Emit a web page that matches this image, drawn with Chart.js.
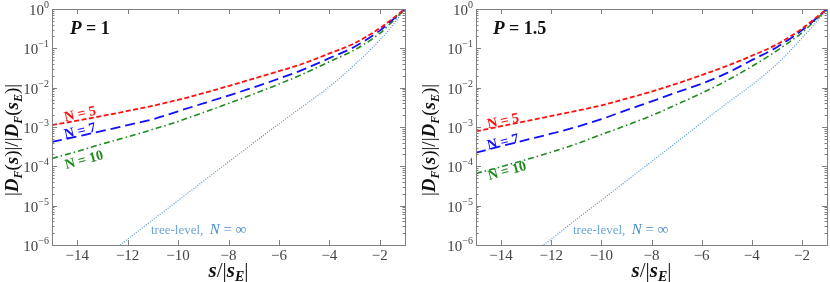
<!DOCTYPE html>
<html>
<head>
<meta charset="utf-8">
<script src="https://cdn.jsdelivr.net/npm/chart.js@4"></script>
<style>
  html, body { margin: 0; padding: 0; background: #fff; }
  #wrap { position: relative; width: 830px; height: 282px; }
  canvas { position: absolute; top: 0; }
</style>
</head>
<body>
<div id="wrap">
  <canvas id="left" width="415" height="282" style="left:0"></canvas>
  <canvas id="right" width="415" height="282" style="left:415px"></canvas>
</div>
<script>
// s/|s_E| grid used for the loop curves, and the one for the tree-level line
const sGrid = [-15, -14, -13, -12, -11, -10, -9, -8, -7, -6, -5, -4, -3, -2, -1.5, -1];
const treeGrid = [-12.3, -12, -11, -10, -9, -8, -7, -6, -5, -4, -3, -2, -1.5, -1];

// P = 1
const p1N5 = [1.12e-3, 1.45e-3, 1.91e-3, 2.57e-3, 3.47e-3, 4.90e-3, 7.24e-3, 1.10e-2, 1.70e-2, 2.63e-2, 4.17e-2, 7.41e-2, 0.135, 0.324, 0.562, 1];
const p1N7 = [4.17e-4, 5.75e-4, 7.94e-4, 1.12e-3, 1.58e-3, 2.51e-3, 3.98e-3, 6.31e-3, 1.02e-2, 1.70e-2, 2.95e-2, 5.62e-2, 0.110, 0.282, 0.525, 1];
const p1N10 = [1.58e-4, 2.40e-4, 3.72e-4, 5.62e-4, 8.71e-4, 1.38e-3, 2.34e-3, 3.98e-3, 6.92e-3, 1.23e-2, 2.29e-2, 4.57e-2, 9.12e-2, 0.240, 0.479, 1];
const p1Tree = [1.0e-6, 1.41e-6, 4.37e-6, 1.35e-5, 4.17e-5, 1.29e-4, 3.98e-4, 1.20e-3, 3.55e-3, 1.05e-2, 3.80e-2, 0.162, 0.380, 1];

// P = 1.5
const p15N5 = [7.76e-4, 1.05e-3, 1.41e-3, 1.91e-3, 2.57e-3, 3.55e-3, 5.25e-3, 7.94e-3, 1.26e-2, 2.09e-2, 3.55e-2, 6.46e-2, 0.126, 0.316, 0.562, 1];
const p15N7 = [2.24e-4, 3.24e-4, 4.68e-4, 6.76e-4, 1.0e-3, 1.58e-3, 2.69e-3, 4.47e-3, 7.59e-3, 1.26e-2, 2.34e-2, 5.01e-2, 0.107, 0.288, 0.525, 1];
const p15N10 = [6.61e-5, 9.77e-5, 1.48e-4, 2.29e-4, 3.72e-4, 6.46e-4, 1.10e-3, 1.95e-3, 3.72e-3, 7.24e-3, 1.51e-2, 3.47e-2, 8.71e-2, 0.251, 0.490, 1];
const p15Tree = [1.0e-6, 1.41e-6, 4.47e-6, 1.38e-5, 4.27e-5, 1.32e-4, 4.07e-4, 1.29e-3, 3.98e-3, 1.17e-2, 3.98e-2, 0.182, 0.407, 1];

const xTicks = [-14, -12, -10, -8, -6, -4, -2];
const yExps = [-6, -5, -4, -3, -2, -1, 0];

const SERIF = '"Liberation Serif", "DejaVu Serif", serif';
const RED = "#ff1010";
const BLUE = "#1010ff";
const GREEN = "#1f8a1f";
const TREE = "#4f95d6";

function pts(xs, ys) {
  return xs.map((x, i) => ({ x, y: ys[i] }));
}

function drawRuns(ctx, runs, x, y, align) {
  let total = 0;
  for (const r of runs) {
    ctx.font = r.f;
    r.w = ctx.measureText(r.t).width;
    total += r.w;
  }
  let cx = align === "center" ? x - total / 2 : x;
  ctx.textAlign = "left";
  ctx.textBaseline = "alphabetic";
  for (const r of runs) {
    ctx.font = r.f;
    if (r.c) ctx.fillStyle = r.c;
    ctx.fillText(r.t, cx, y + (r.dy || 0));
    cx += r.w;
  }
}

const bi = (s) => `italic bold ${s}px ${SERIF}`;
const rm = (s) => `${s}px ${SERIF}`;

function yTitleRuns() {
  return [
    { t: "|", f: rm(19) }, { t: "D", f: bi(19) }, { t: "F", f: bi(12), dy: 4 },
    { t: "(", f: rm(19) }, { t: "s", f: bi(19) }, { t: ")", f: rm(19) }, { t: "|", f: rm(19) },
    { t: "/", f: rm(19) },
    { t: "|", f: rm(19) }, { t: "D", f: bi(19) }, { t: "F", f: bi(12), dy: 4 },
    { t: "(", f: rm(19) }, { t: "s", f: bi(19) }, { t: "E", f: bi(12), dy: 4 },
    { t: ")", f: rm(19) }, { t: "|", f: rm(19) },
  ];
}

function xTitleRuns() {
  return [
    { t: "s", f: bi(21) }, { t: "/", f: rm(21) }, { t: "|", f: rm(21) },
    { t: "s", f: bi(21) }, { t: "E", f: bi(14), dy: 4 }, { t: "|", f: rm(21) },
  ];
}

const decor = {
  id: "decor",
  afterDraw(chart, args, o) {
    const ctx = chart.ctx;
    const a = chart.chartArea;
    const xs = chart.scales.x;
    const ys = chart.scales.y;
    ctx.save();

    // frame
    ctx.strokeStyle = "#808080";
    ctx.lineWidth = 1;
    ctx.strokeRect(Math.round(a.left) + 0.5, Math.round(a.top) + 0.5,
      Math.round(a.right - a.left), Math.round(a.bottom - a.top));

    // inward ticks on all four sides
    ctx.beginPath();
    for (const v of xTicks) {
      const px = Math.round(xs.getPixelForValue(v)) + 0.5;
      ctx.moveTo(px, a.bottom); ctx.lineTo(px, a.bottom - 5);
      ctx.moveTo(px, a.top); ctx.lineTo(px, a.top + 5);
    }
    for (const e of yExps) {
      const py = Math.round(ys.getPixelForValue(Math.pow(10, e))) + 0.5;
      ctx.moveTo(a.left, py); ctx.lineTo(a.left + 5, py);
      ctx.moveTo(a.right, py); ctx.lineTo(a.right - 5, py);
      if (e < 0) {
        for (let m = 2; m <= 9; m++) {
          const pm = Math.round(ys.getPixelForValue(m * Math.pow(10, e))) + 0.5;
          ctx.moveTo(a.left, pm); ctx.lineTo(a.left + 2.5, pm);
          ctx.moveTo(a.right, pm); ctx.lineTo(a.right - 2.5, pm);
        }
      }
    }
    ctx.stroke();

    // tick labels
    ctx.fillStyle = "#444";
    ctx.textAlign = "center";
    ctx.textBaseline = "alphabetic";
    ctx.font = rm(15);
    for (const v of xTicks) {
      ctx.fillText("\u2212" + Math.abs(v), xs.getPixelForValue(v), 260);
    }
    for (const e of yExps) {
      const py = ys.getPixelForValue(Math.pow(10, e));
      const sup = e === 0 ? "0" : "\u2212" + Math.abs(e);
      ctx.font = rm(10);
      const sw = ctx.measureText(sup).width;
      ctx.font = rm(15);
      const bw = ctx.measureText("10").width;
      const right = a.left - 3;
      ctx.textAlign = "left";
      ctx.fillText("10", right - sw - bw, py + 6);
      ctx.font = rm(10);
      ctx.fillText(sup, right - sw, py - 1);
    }

    // axis titles
    ctx.fillStyle = "#111";
    drawRuns(ctx, xTitleRuns(), (a.left + a.right) / 2, 277, "center");
    ctx.save();
    ctx.translate(o.yTitleX, 140);
    ctx.rotate(-Math.PI / 2);
    drawRuns(ctx, yTitleRuns(), 0, 0, "center");
    ctx.restore();

    // panel label
    drawRuns(ctx, [
      { t: "P", f: bi(19) }, { t: " = ", f: `bold 18px ${SERIF}` }, { t: o.pText, f: `bold 18px ${SERIF}` },
    ], o.pX, 34, "left");

    // curve labels
    for (const l of o.nLabels) {
      ctx.save();
      ctx.translate(l.x, l.y);
      ctx.rotate(l.rot * Math.PI / 180);
      drawRuns(ctx, [{ t: l.t, f: `bold 14px ${SERIF}`, c: l.c }], 0, 4, "center");
      ctx.restore();
    }

    drawRuns(ctx, [
      { t: "tree-level,  ", f: rm(13), c: "#6aa6dc" },
      { t: "N", f: `italic 15px ${SERIF}`, c: "#4a8ccc" },
      { t: " = \u221e", f: rm(15), c: "#4a8ccc" },
    ], o.treeX, 234, "left");

    ctx.restore();
  },
};

function makeChart(id, n5, n7, n10, tree, pad, o) {
  return new Chart(document.getElementById(id), {
    type: "line",
    data: {
      datasets: [
        { data: pts(sGrid, n5), borderColor: RED, borderWidth: 1.8, borderDash: [5, 2.5] },
        { data: pts(sGrid, n7), borderColor: BLUE, borderWidth: 1.8, borderDash: [10, 5] },
        { data: pts(sGrid, n10), borderColor: GREEN, borderWidth: 1.6, borderDash: [6, 3, 1.5, 3] },
        { data: pts(treeGrid, tree), borderColor: TREE, borderWidth: 1.2, borderDash: [1, 1.5] },
      ],
    },
    options: {
      responsive: false,
      animation: false,
      devicePixelRatio: 1,
      layout: { padding: pad },
      elements: {
        point: { radius: 0 },
        line: { cubicInterpolationMode: "monotone", fill: false },
      },
      plugins: { legend: { display: false }, tooltip: { enabled: false }, decor: o },
      scales: {
        x: { type: "linear", min: -15, max: -1, display: false },
        y: { type: "logarithmic", min: 1e-6, max: 1, display: false },
      },
    },
    plugins: [decor],
  });
}

makeChart("left", p1N5, p1N7, p1N10, p1Tree,
  { left: 52, right: 10, top: 9, bottom: 37 },
  {
    yTitleX: 18, pText: "1", pX: 70, treeX: 151,
    nLabels: [
      { t: "N = 5", x: 80, y: 114, rot: -12, c: RED },
      { t: "N = 7", x: 80, y: 131, rot: -13, c: BLUE },
      { t: "N = 10", x: 84, y: 160, rot: -15, c: GREEN },
    ],
  });

makeChart("right", p15N5, p15N7, p15N10, p15Tree,
  { left: 61, right: 3, top: 9, bottom: 37 },
  {
    yTitleX: 20, pText: "1.5", pX: 78, treeX: 158,
    nLabels: [
      { t: "N = 5", x: 88, y: 121, rot: -12, c: RED },
      { t: "N = 7", x: 88, y: 142, rot: -13, c: BLUE },
      { t: "N = 10", x: 92, y: 171, rot: -15, c: GREEN },
    ],
  });
</script>
</body>
</html>
